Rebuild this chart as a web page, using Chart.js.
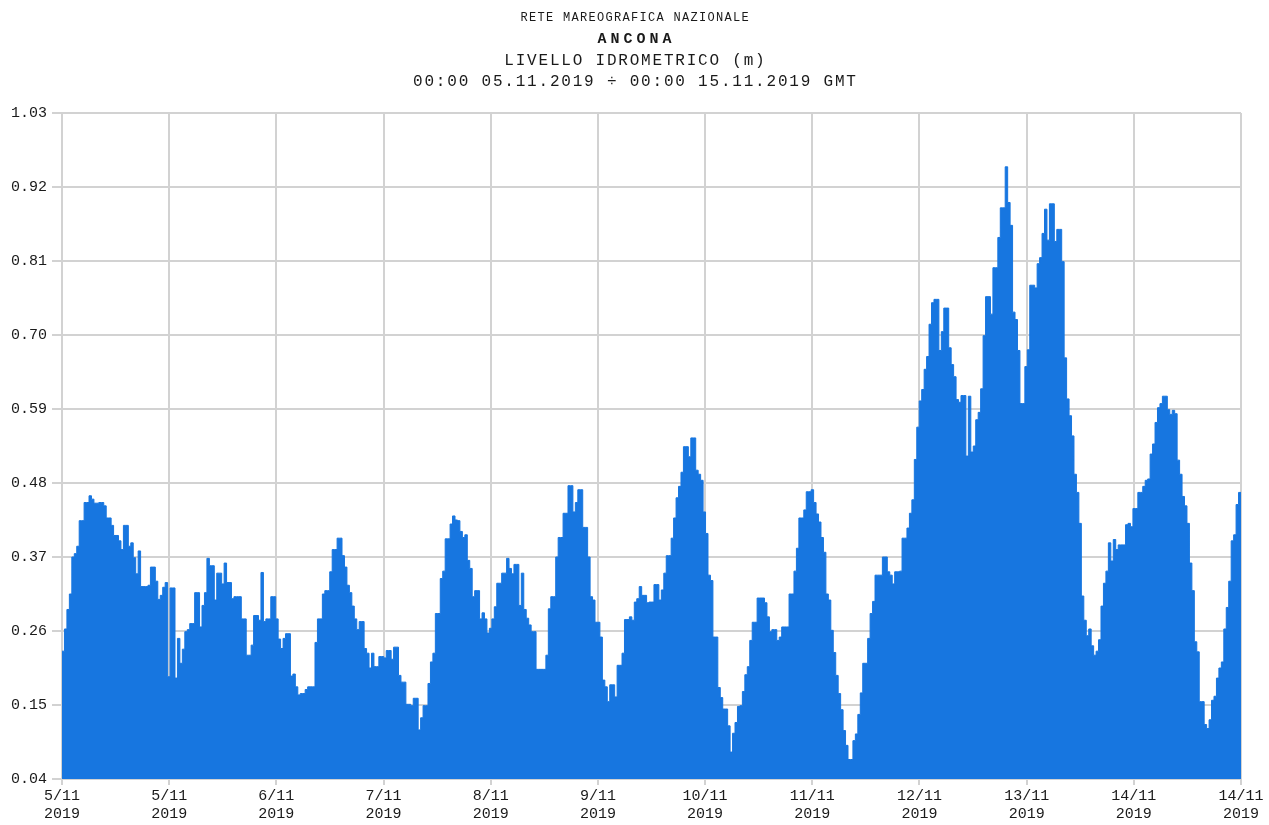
<!DOCTYPE html>
<html>
<head>
<meta charset="utf-8">
<script src="https://cdn.jsdelivr.net/npm/chart.js@4/dist/chart.umd.min.js"></script>
<style>
html,body{margin:0;padding:0;background:#ffffff;}
#wrap{position:relative;width:1269px;height:825px;}
</style>
</head>
<body>
<div id="wrap"><canvas id="c"></canvas></div>
<script>
// ---- Title text ----
const titleLines = [
  'RETE MAREOGRAFICA NAZIONALE',
  'ANCONA',
  'LIVELLO IDROMETRICO (m)',
  '00:00 05.11.2019 \u00F7 00:00 15.11.2019 GMT'
];

// ---- Tick labels ----
const xTickDates = ['5/11','5/11','6/11','7/11','8/11','9/11','10/11','11/11','12/11','13/11','14/11','14/11'];
const xTickYears = ['2019','2019','2019','2019','2019','2019','2019','2019','2019','2019','2019','2019'];
const yTickValues = [0.04, 0.15, 0.26, 0.37, 0.48, 0.59, 0.70, 0.81, 0.92, 1.03];

// ---- Water level (m), half-hourly samples, one array per day ----
const day05 = [0.230,0.263,0.292,0.315,0.370,0.375,0.386,0.424,0.424,0.451,0.451,0.461,
               0.456,0.450,0.450,0.451,0.451,0.446,0.428,0.428,0.417,0.402,0.402,0.394,
               0.381,0.417,0.417,0.386,0.391,0.369,0.345,0.379,0.326,0.326,0.326,0.328,
               0.355,0.355,0.334,0.307,0.313,0.325,0.332,0.192,0.324,0.324,0.190,0.249];
const day06 = [0.212,0.233,0.259,0.262,0.271,0.271,0.317,0.317,0.266,0.298,0.317,0.368,
               0.357,0.357,0.306,0.346,0.346,0.330,0.361,0.332,0.332,0.308,0.311,0.311,
               0.311,0.278,0.278,0.224,0.224,0.239,0.283,0.283,0.276,0.347,0.274,0.278,
               0.278,0.311,0.311,0.278,0.248,0.234,0.249,0.256,0.256,0.193,0.196,0.177];
const day07 = [0.165,0.167,0.167,0.173,0.177,0.177,0.177,0.243,0.278,0.278,0.315,0.320,
               0.320,0.348,0.381,0.381,0.398,0.398,0.372,0.355,0.328,0.317,0.297,0.278,
               0.262,0.274,0.274,0.234,0.227,0.205,0.227,0.207,0.207,0.222,0.222,0.220,
               0.231,0.231,0.218,0.236,0.236,0.194,0.184,0.184,0.151,0.151,0.149,0.160];
const day08 = [0.160,0.113,0.131,0.149,0.149,0.182,0.214,0.227,0.286,0.286,0.338,0.349,
               0.397,0.397,0.419,0.431,0.425,0.424,0.408,0.399,0.403,0.365,0.353,0.311,
               0.320,0.320,0.278,0.287,0.278,0.257,0.264,0.278,0.296,0.331,0.331,0.346,
               0.346,0.368,0.353,0.345,0.359,0.359,0.298,0.346,0.292,0.279,0.269,0.259];
const day09 = [0.259,0.203,0.203,0.203,0.203,0.224,0.293,0.311,0.311,0.370,0.399,0.399,
               0.435,0.435,0.476,0.476,0.437,0.451,0.470,0.470,0.414,0.414,0.370,0.311,
               0.306,0.273,0.273,0.251,0.187,0.177,0.155,0.180,0.180,0.162,0.209,0.209,
               0.227,0.277,0.277,0.281,0.276,0.303,0.308,0.326,0.313,0.313,0.302,0.303];
const day10 = [0.303,0.329,0.329,0.306,0.321,0.346,0.372,0.372,0.398,0.428,0.458,0.475,
               0.496,0.534,0.534,0.519,0.547,0.547,0.499,0.493,0.484,0.437,0.405,0.343,
               0.335,0.251,0.251,0.176,0.161,0.144,0.144,0.119,0.080,0.108,0.124,0.148,
               0.149,0.170,0.195,0.207,0.246,0.273,0.273,0.309,0.309,0.309,0.302,0.281];
const day11 = [0.259,0.262,0.262,0.246,0.251,0.266,0.266,0.266,0.315,0.315,0.349,0.383,
               0.428,0.428,0.440,0.467,0.467,0.470,0.451,0.434,0.422,0.399,0.377,0.315,
               0.306,0.261,0.228,0.194,0.167,0.143,0.112,0.090,0.069,0.069,0.097,0.107,
               0.136,0.168,0.212,0.212,0.249,0.286,0.304,0.343,0.343,0.343,0.370,0.370];
const day12 = [0.348,0.343,0.330,0.348,0.348,0.349,0.398,0.398,0.413,0.435,0.455,0.515,
               0.563,0.602,0.619,0.649,0.668,0.716,0.748,0.753,0.753,0.677,0.705,0.740,
               0.740,0.681,0.656,0.638,0.604,0.600,0.610,0.610,0.520,0.609,0.526,0.535,
               0.574,0.585,0.620,0.699,0.757,0.757,0.731,0.800,0.800,0.845,0.889,0.889];
const day13 = [0.950,0.897,0.863,0.734,0.723,0.677,0.598,0.598,0.653,0.678,0.774,0.774,
               0.770,0.806,0.815,0.851,0.887,0.841,0.895,0.895,0.839,0.857,0.857,0.809,
               0.666,0.605,0.580,0.550,0.493,0.466,0.420,0.312,0.276,0.253,0.263,0.238,
               0.224,0.230,0.247,0.297,0.331,0.349,0.391,0.364,0.396,0.381,0.388,0.388];
const day14 = [0.388,0.418,0.420,0.415,0.442,0.442,0.466,0.466,0.475,0.484,0.486,0.523,
               0.538,0.570,0.592,0.598,0.609,0.609,0.589,0.582,0.588,0.583,0.514,0.493,
               0.460,0.446,0.420,0.361,0.320,0.244,0.229,0.155,0.155,0.121,0.115,0.128,
               0.157,0.163,0.190,0.205,0.214,0.263,0.295,0.334,0.394,0.403,0.448,0.466];

const STEP_HOURS = 0.5;
const TOTAL_HOURS = 240;

const levels = [].concat(day05, day06, day07, day08, day09, day10, day11, day12, day13, day14);
const points = levels.map((v, i) => ({ x: i * STEP_HOURS, y: v }));
points.push({ x: TOTAL_HOURS, y: levels[levels.length - 1] });

const FILL = '#1776e0';
const GRID = '#d2d2d2';
const TEXT = '#1a1a1a';

const titlePlugin = {
  id: 'multiTitle',
  afterDraw(chart) {
    const ctx = chart.ctx;
    const cx = chart.width / 2;
    const styles = [
      { font: '12px "Liberation Mono", "DejaVu Sans Mono", monospace', spacing: 1.3, y: 18 },
      { font: 'bold 15px "Liberation Mono", "DejaVu Sans Mono", monospace', spacing: 4, y: 39 },
      { font: '16px "Liberation Mono", "DejaVu Sans Mono", monospace', spacing: 1.8, y: 61 },
      { font: '16px "Liberation Mono", "DejaVu Sans Mono", monospace', spacing: 1.8, y: 82 }
    ];
    ctx.save();
    ctx.fillStyle = TEXT;
    ctx.textAlign = 'center';
    ctx.textBaseline = 'middle';
    titleLines.forEach((t, k) => {
      const s = styles[k];
      ctx.font = s.font;
      try { ctx.letterSpacing = s.spacing + 'px'; } catch (e) {}
      // compensate the trailing letter spacing so the ink is centred
      ctx.fillText(t, cx + s.spacing / 2, s.y);
    });
    try { ctx.letterSpacing = '0px'; } catch (e) {}
    ctx.restore();
  }
};

const tickFont = { family: '"Liberation Mono", "DejaVu Sans Mono", monospace', size: 15 };

new Chart(document.getElementById('c'), {
  type: 'line',
  data: {
    datasets: [{
      data: points,
      stepped: true,
      fill: 'start',
      backgroundColor: FILL,
      borderColor: FILL,
      borderWidth: 1,
      pointRadius: 0,
      tension: 0
    }]
  },
  options: {
    responsive: true,
    maintainAspectRatio: false,
    animation: false,
    devicePixelRatio: 1,
    layout: { padding: { top: 113, right: 28, left: 0, bottom: 0 } },
    plugins: {
      legend: { display: false },
      tooltip: { enabled: false },
      title: { display: false }
    },
    scales: {
      x: {
        type: 'linear',
        min: 0,
        max: TOTAL_HOURS,
        afterBuildTicks(scale) {
          const n = xTickDates.length - 1;
          scale.ticks = xTickDates.map((_, k) => ({ value: k * TOTAL_HOURS / n }));
        },
        afterFit(scale) { scale.height = 46; },
        ticks: {
          autoSkip: false,
          maxRotation: 0,
          minRotation: 0,
          padding: 2,
          color: TEXT,
          font: tickFont,
          callback: (v, i) => [xTickDates[i], xTickYears[i]]
        },
        grid: { color: GRID, lineWidth: 2, tickLength: 6, drawTicks: true },
        border: { display: false }
      },
      y: {
        min: 0.04,
        max: 1.03,
        afterBuildTicks(scale) {
          scale.ticks = yTickValues.map(v => ({ value: v }));
        },
        afterFit(scale) { scale.width = 62; },
        ticks: {
          padding: 5,
          color: TEXT,
          font: tickFont,
          callback: (v) => Number(v).toFixed(2)
        },
        grid: { color: GRID, lineWidth: 2, tickLength: 10, drawTicks: true },
        border: { display: false }
      }
    }
  },
  plugins: [titlePlugin]
});
</script>
</body>
</html>
